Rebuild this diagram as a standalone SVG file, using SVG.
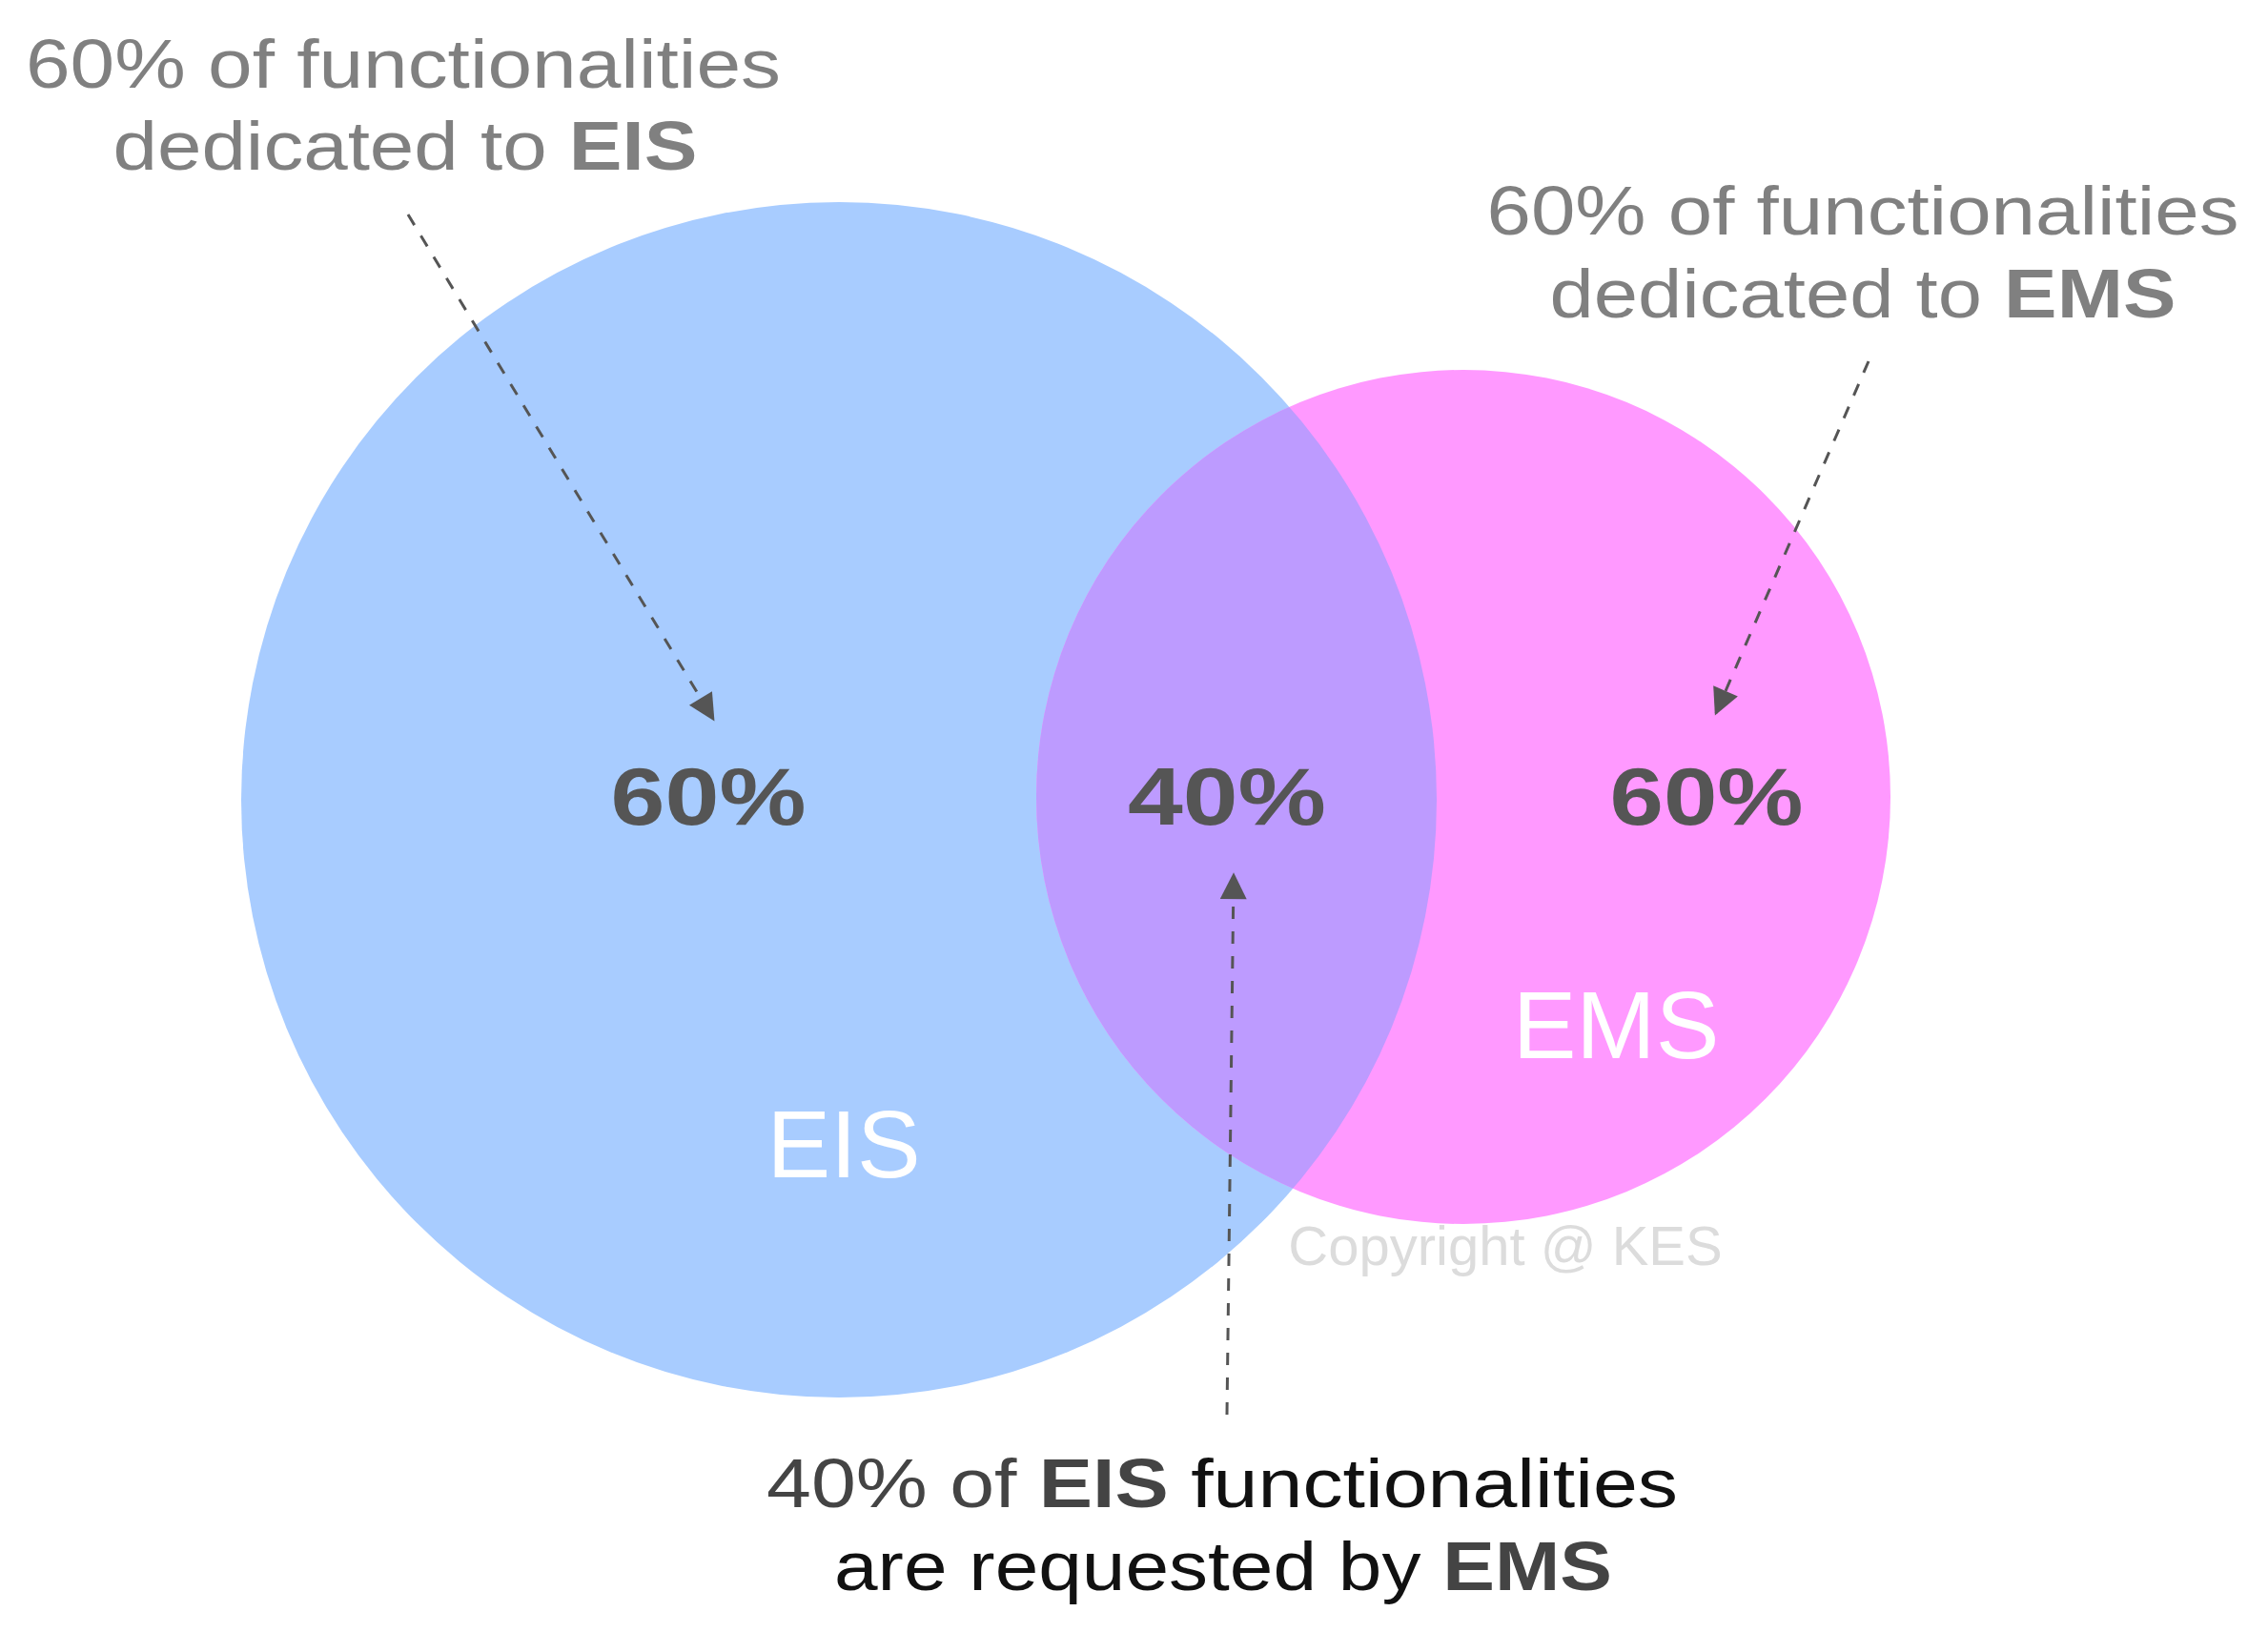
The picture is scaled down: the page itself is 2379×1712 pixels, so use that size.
<svg xmlns="http://www.w3.org/2000/svg" width="2379" height="1712" viewBox="0 0 2379 1712">
<style>
.lbl{font-family:"Liberation Sans",Arial,sans-serif;font-size:73px;fill:#808080;text-anchor:middle}
.blk{font-family:"Liberation Sans",Arial,sans-serif;font-size:73px;fill:#111;text-anchor:middle}
.b{font-weight:bold}
.pct{font-family:"Liberation Sans",Arial,sans-serif;font-size:86px;font-weight:bold;fill:#555;text-anchor:middle}
.name{font-family:"Liberation Sans",Arial,sans-serif;font-size:100px;fill:#fff;text-anchor:middle}
.copy{font-family:"Liberation Sans",Arial,sans-serif;font-size:58px;fill:#dcdcdc;text-anchor:middle}
.dash{fill:none;stroke:#555;stroke-width:3;stroke-dasharray:13 13}
</style>
<defs>
<clipPath id="clipBlue"><circle cx="880" cy="839" r="627"/></clipPath>
<marker id="ah" viewBox="0 0 10 10" refX="9" refY="5" markerWidth="32" markerHeight="28" markerUnits="userSpaceOnUse" orient="auto"><path d="M0,0 L10,5 L0,10 z" fill="#555"/></marker>
</defs>
<rect width="2379" height="1712" fill="#fff"/>
<g id="eis"><circle cx="880" cy="839" r="627" fill="#A8CCFF"/></g>
<g id="ems"><circle cx="1535" cy="836" r="448" fill="#FF99FF"/></g>
<g id="overlap"><circle cx="1535" cy="836" r="448" fill="#BD9BFF" clip-path="url(#clipBlue)"/></g>
<g id="labels">
<text class="pct" x="743" y="865" textLength="205" lengthAdjust="spacingAndGlyphs">60%</text>
<text class="pct" x="1287" y="865" textLength="208" lengthAdjust="spacingAndGlyphs">40%</text>
<text class="pct" x="1790" y="865" textLength="203" lengthAdjust="spacingAndGlyphs">60%</text>
<text class="name" x="885" y="1235">EIS</text>
<text class="name" x="1695" y="1110">EMS</text>
<text class="copy" x="1579" y="1327">Copyright @ KES</text>
</g>
<g id="connectors">
<line class="dash" x1="428" y1="225" x2="748" y2="754" marker-end="url(#ah)"/>
<line class="dash" x1="1960" y1="379" x2="1800" y2="748" marker-end="url(#ah)"/>
<line class="dash" x1="1287" y1="1484" x2="1294" y2="918" marker-end="url(#ah)"/>
</g>
<g id="note-eis">
<text class="lbl" x="423" y="92" textLength="792" lengthAdjust="spacingAndGlyphs">60% of functionalities</text>
<text class="lbl" x="425" y="178" textLength="613" lengthAdjust="spacingAndGlyphs">dedicated to <tspan class="b">EIS</tspan></text>
</g>
<g id="note-ems">
<text class="lbl" x="1954" y="246" textLength="789" lengthAdjust="spacingAndGlyphs">60% of functionalities</text>
<text class="lbl" x="1954" y="333" textLength="657" lengthAdjust="spacingAndGlyphs">dedicated to <tspan class="b">EMS</tspan></text>
</g>
<g id="note-shared">
<text class="blk" x="1282" y="1581" textLength="956" lengthAdjust="spacingAndGlyphs"><tspan fill="#444">40% of </tspan><tspan class="b" fill="#444">EIS</tspan> functionalities</text>
<text class="blk" x="1283" y="1668" textLength="816" lengthAdjust="spacingAndGlyphs">are requested by <tspan class="b" fill="#444">EMS</tspan></text>
</g>
</svg>
